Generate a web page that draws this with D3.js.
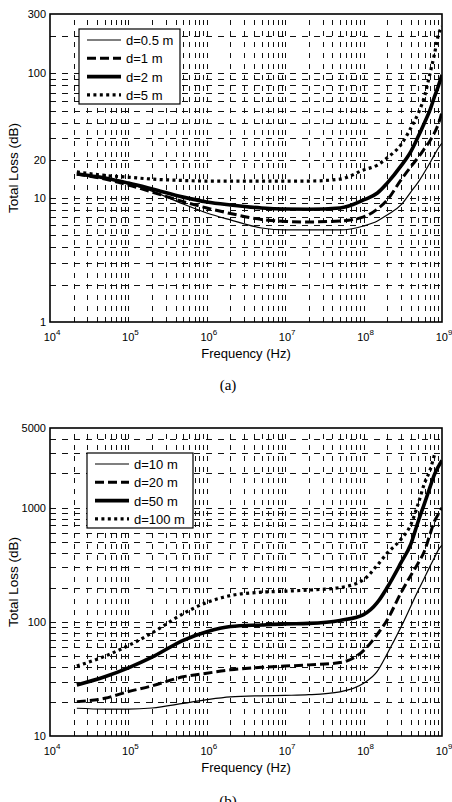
<!DOCTYPE html>
<html lang="en">
<head>
<meta charset="UTF-8">
<title>Total loss vs frequency</title>
<script src="https://cdn.jsdelivr.net/npm/d3@7"></script>
<style>
  body { margin: 0; background: #fff; }
  svg { display: block; font-family: "Liberation Sans", Arial, sans-serif; }
</style>
</head>
<body>
<svg width="452" height="802"></svg>
<script>
// frequencies (Hz) shared by all curves
var freqs = [2.2e4, 5e4, 1e5, 2e5, 5e5, 1e6, 2e6, 5e6, 1e7, 2e7, 5e7, 1e8, 1.5e8, 2e8,
             3e8, 4e8, 5e8, 6e8, 7e8, 8e8, 9e8, 1e9];

// (a) short distances, total loss in dB
var namesA = ["d=0.5 m", "d=1 m", "d=2 m", "d=5 m"];
var lossA05 = [15.8, 14.4, 12.9, 11.3, 8.9, 7.53, 6.62, 5.7, 5.5, 5.5, 5.5, 5.92, 6.49, 7.26,
               8.74, 11.1, 13.4, 16.1, 19.0, 22.1, 25.1, 27.5];
var lossA1  = [15.5, 14.1, 12.65, 11.1, 9.29, 8.26, 7.46, 6.68, 6.44, 6.38, 6.49, 7.0, 8.11, 9.58,
               13.9, 17.7, 21.2, 24.9, 28.6, 33.2, 39.2, 48.9];
var lossA2  = [15.5, 14.4, 13.1, 11.75, 10.1, 9.24, 8.74, 8.26, 8.1, 8.07, 8.26, 9.58, 10.9, 13.1,
               18.0, 23.5, 31.3, 40.3, 50.3, 64.6, 79.2, 97.1];
var lossA5  = [16.1, 15.1, 14.6, 14.1, 13.75, 13.6, 13.6, 13.6, 13.6, 13.6, 14.1, 16.7, 18.3, 20.9,
               26.7, 36.3, 48.0, 65.6, 98.5, 142, 204, 238];
var yTicksA = [1, 10, 20, 100, 300];

// (b) long distances, total loss in dB
var namesB = ["d=10 m", "d=20 m", "d=50 m", "d=100 m"];
var lossB10  = [17.5, 17.2, 17.2, 17.6, 19.3, 20.8, 22, 22.5, 22.7, 23, 24.4, 29, 37, 52.5,
                90, 137, 190, 245, 305, 365, 428, 470];
var lossB20  = [20, 21.4, 24.5, 27.5, 33, 35.5, 38, 40, 41, 42, 44, 56, 78, 104,
                180, 255, 330, 420, 580, 760, 880, 1000];
var lossB50  = [28, 33, 39.5, 49, 69, 82, 91, 94, 96, 97, 103, 116, 148, 200,
                330, 480, 770, 1100, 1500, 1950, 2300, 2600];
var lossB100 = [41, 50, 62, 80, 118, 148, 170, 182, 186, 190, 200, 234, 315, 400,
                530, 710, 1100, 1650, 2120, 2900, null, null];
var yTicksB = [10, 100, 1000, 5000];

var xExponents = [4, 5, 6, 7, 8, 9];

var svg = d3.select("svg");

// line look for the 4 curves: thin, dashed, thick, dotted
var styles = [
  { w: 1.2, dash: null },
  { w: 3, dash: "9,4" },
  { w: 3.6, dash: null },
  { w: 3.2, dash: "3,3.4" }
];

function drawPanel(p) {
  var x = d3.scaleLog().domain([1e4, 1e9]).range([50, 442]);
  var y = d3.scaleLog().domain(p.yDomain).range([p.bottom, p.top]);
  var g = svg.append("g");

  // grid: every k*10^n
  var xGrid = [], yGrid = [];
  for (var e = 4; e < 9; e++)
    for (var k = 1; k <= 9; k++) xGrid.push(k * Math.pow(10, e));
  for (var e2 = Math.floor(Math.log10(p.yDomain[0])); e2 <= Math.ceil(Math.log10(p.yDomain[1])); e2++)
    for (var k2 = 1; k2 <= 9; k2++) {
      var v = k2 * Math.pow(10, e2);
      if (v > p.yDomain[0] * 1.0001 && v < p.yDomain[1] * 0.9999) yGrid.push(v);
    }
  xGrid = xGrid.filter(function (v) { return v > 1e4 * 1.0001; });

  g.selectAll(".vg").data(xGrid).enter().append("line")
    .attr("x1", function (d) { return Math.round(x(d)) + 0.5; })
    .attr("x2", function (d) { return Math.round(x(d)) + 0.5; })
    .attr("y1", p.bottom).attr("y2", p.top)
    .attr("stroke", "#111").attr("stroke-width", 1)
    .attr("stroke-dasharray", "5,6");
  g.selectAll(".hg").data(yGrid).enter().append("line")
    .attr("y1", function (d) { return Math.round(y(d)) + 0.5; })
    .attr("y2", function (d) { return Math.round(y(d)) + 0.5; })
    .attr("x1", 50).attr("x2", 442)
    .attr("stroke", "#111").attr("stroke-width", 1)
    .attr("stroke-dasharray", "6,6");

  // curves
  var clipId = "clip" + p.id;
  svg.append("clipPath").attr("id", clipId).append("rect")
    .attr("x", 50).attr("y", p.top).attr("width", 392).attr("height", p.bottom - p.top);
  var line = d3.line()
    .defined(function (d) { return d.v != null; })
    .x(function (d) { return x(d.f); })
    .y(function (d) { return y(d.v); })
    .curve(d3.curveMonotoneX);
  p.series.forEach(function (s, i) {
    var pts = freqs.map(function (f, j) { return { f: f, v: s[j] }; });
    g.append("path")
      .attr("clip-path", "url(#" + clipId + ")")
      .attr("d", line(pts))
      .attr("fill", "none").attr("stroke", "#000")
      .attr("stroke-width", styles[i].w)
      .attr("stroke-dasharray", styles[i].dash);
  });

  // axes box
  g.append("rect")
    .attr("x", 50).attr("y", p.top).attr("width", 392).attr("height", p.bottom - p.top)
    .attr("fill", "none").attr("stroke", "#000").attr("stroke-width", 1.6);

  // y tick labels
  g.selectAll(".yt").data(p.yTicks).enter().append("text")
    .attr("x", 46).attr("y", function (d) { return y(d) + 4; })
    .attr("text-anchor", "end").attr("font-size", 11)
    .text(function (d) { return d; });

  // x tick labels 10^n
  var xt = g.selectAll(".xt").data(xExponents).enter().append("text")
    .attr("x", function (d) { return x(Math.pow(10, d)) + 2; })
    .attr("y", p.bottom + 19)
    .attr("text-anchor", "middle").attr("font-size", 11);
  xt.append("tspan").text("10");
  xt.append("tspan").attr("dy", -6).attr("font-size", 8).text(function (d) { return d; });

  g.append("text")
    .attr("x", 246).attr("y", p.bottom + 36)
    .attr("text-anchor", "middle").attr("font-size", 13)
    .text("Frequency (Hz)");
  g.append("text")
    .attr("transform", "translate(18," + ((p.top + p.bottom) / 2) + ") rotate(-90)")
    .attr("text-anchor", "middle").attr("font-size", 13.5)
    .text("Total Loss (dB)");
  g.append("text")
    .attr("x", 228).attr("y", p.captionY)
    .attr("text-anchor", "middle").attr("font-size", 15)
    .attr("font-family", "'Liberation Serif', 'Times New Roman', serif")
    .text(p.caption);

  // legend
  var L = p.legend;
  g.append("rect")
    .attr("x", L.x).attr("y", L.y).attr("width", L.w).attr("height", L.h)
    .attr("fill", "#fff").attr("stroke", "#000").attr("stroke-width", 1.2);
  p.names.forEach(function (n, i) {
    var ry = L.y + 11 + i * 18.3;
    g.append("line")
      .attr("x1", L.x + 8).attr("x2", L.x + 42)
      .attr("y1", ry).attr("y2", ry)
      .attr("stroke", "#000").attr("stroke-width", styles[i].w)
      .attr("stroke-dasharray", styles[i].dash);
    g.append("text")
      .attr("x", L.x + 47).attr("y", ry + 5)
      .attr("font-size", 13)
      .text(n);
  });
}

drawPanel({
  id: "a", top: 14, bottom: 322, yDomain: [1, 300], yTicks: yTicksA,
  series: [lossA05, lossA1, lossA2, lossA5], names: namesA,
  legend: { x: 79, y: 29, w: 101, h: 75 },
  caption: "(a)", captionY: 390
});
drawPanel({
  id: "b", top: 428, bottom: 736, yDomain: [10, 5000], yTicks: yTicksB,
  series: [lossB10, lossB20, lossB50, lossB100], names: namesB,
  legend: { x: 87, y: 453, w: 106, h: 75 },
  caption: "(b)", captionY: 806
});
</script>
</body>
</html>
